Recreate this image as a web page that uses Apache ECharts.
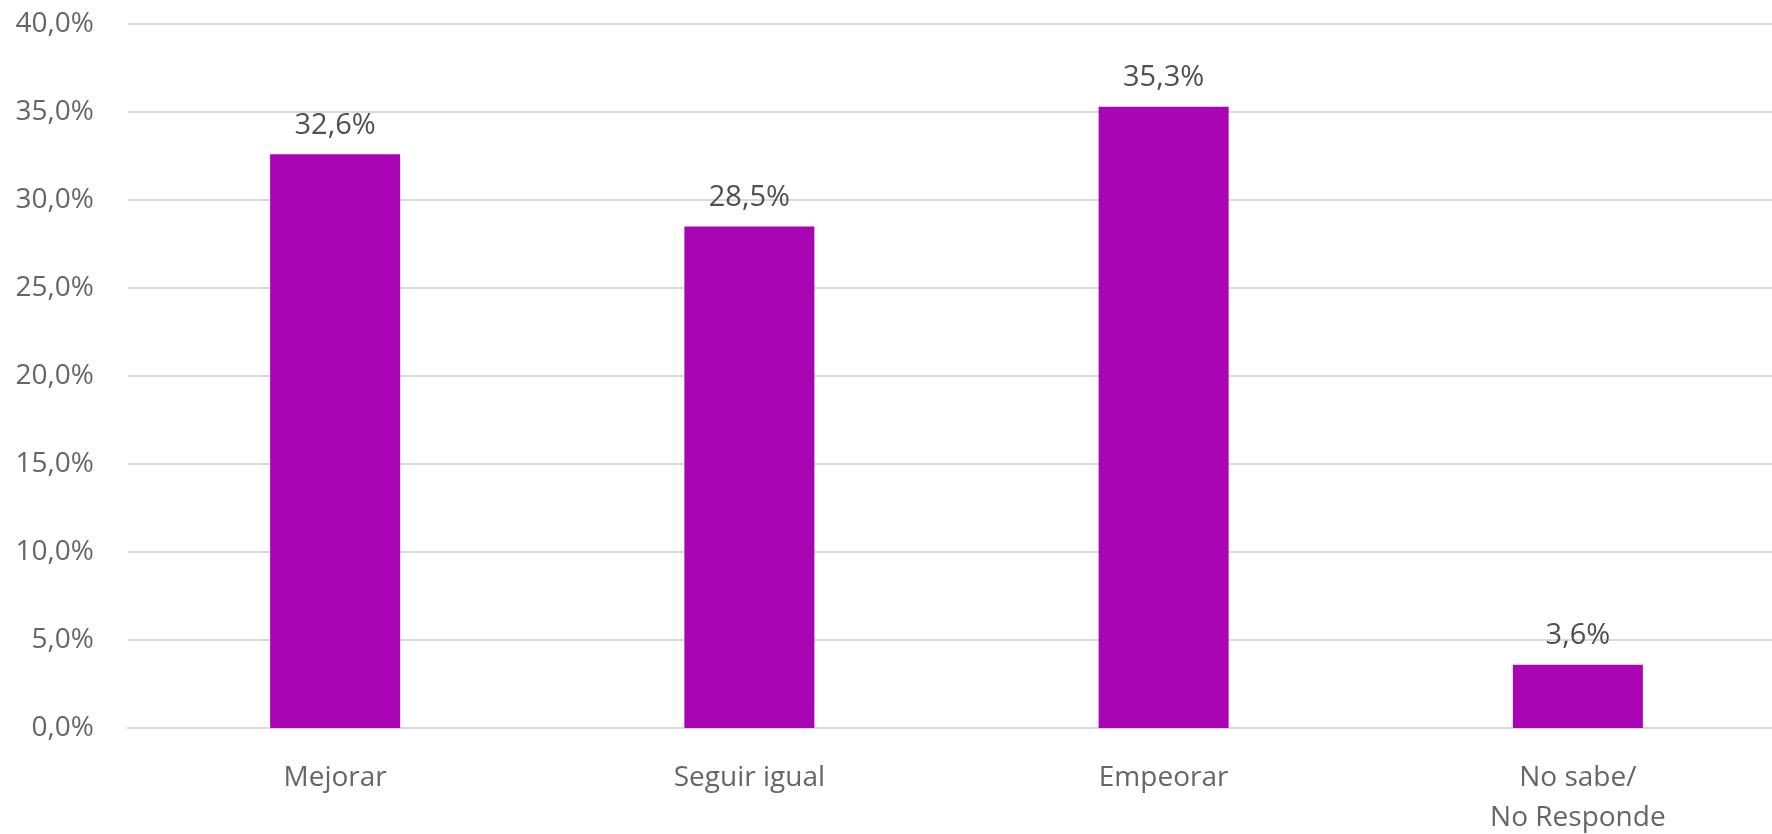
<!DOCTYPE html>
<html>
<head>
<meta charset="utf-8">
<script src="https://cdn.jsdelivr.net/npm/echarts@6/dist/echarts.min.js"></script>
<style>
html,body{margin:0;padding:0;background:#fff;}
#chart{width:1772px;height:834px;}
</style>
</head>
<body>
<div id="chart"></div>
<script>
const categories = ['Mejorar', 'Seguir igual', 'Empeorar', 'No sabe/\nNo Responde'];
const values = [32.6, 28.5, 35.3, 3.6];
const yTicks = [0, 5, 10, 15, 20, 25, 30, 35, 40];

const fmt = v => v.toFixed(1).replace('.', ',') + '%';

const chart = echarts.init(document.getElementById('chart'));
chart.setOption({
  animation: false,
  textStyle: { fontFamily: 'Open Sans' },
  grid: { left: 128, top: 24, bottom: 106, right: -13, containLabel: false, outerBoundsMode: 'none' },
  xAxis: {
    type: 'category',
    data: categories,
    axisTick: { show: false },
    axisLine: { show: true, lineStyle: { color: '#d9d9d9', width: 2 } },
    axisLabel: { color: '#666666', fontSize: 28, margin: 30, lineHeight: 40, fontFamily: 'Open Sans' }
  },
  yAxis: {
    type: 'value',
    min: yTicks[0],
    max: yTicks[yTicks.length - 1],
    interval: 5,
    axisLine: { show: false },
    axisTick: { show: false },
    splitLine: { lineStyle: { color: '#d9d9d9', width: 2 } },
    axisLabel: { color: '#666666', fontSize: 28, margin: 34, formatter: v => fmt(v), fontFamily: 'Open Sans' }
  },
  series: [{
    type: 'bar',
    data: values,
    barWidth: 130,
    itemStyle: { color: '#A804B4' },
    label: {
      show: true,
      position: 'top',
      distance: 14,
      color: '#505050',
      fontSize: 29,
      fontFamily: 'Open Sans',
      formatter: p => fmt(p.value)
    }
  }]
});
</script>
</body>
</html>
